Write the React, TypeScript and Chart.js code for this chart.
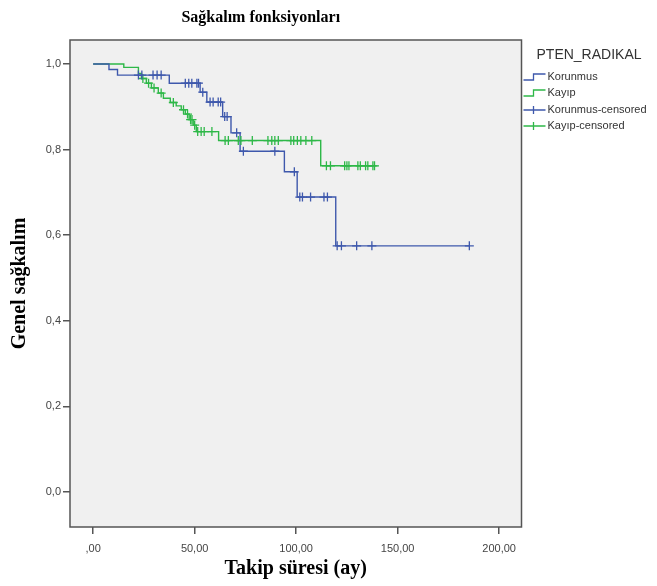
import React, { useEffect, useRef } from "react";
import { Chart, registerables } from "chart.js";

Chart.register(...registerables);

const chartTitle = "Sağkalım fonksiyonları";
const xAxisTitle = "Takip süresi (ay)";
const yAxisTitle = "Genel sağkalım";
const legendTitle = "PTEN_RADIKAL";
const seriesNames = ["Korunmus", "Kayıp"];
const censoredNames = ["Korunmus-censored", "Kayıp-censored"];
const seriesColors = ["#3E58AC", "#2EB848"];

const xTicks = [0, 50, 100, 150, 200];
const xTickLabels = [",00", "50,00", "100,00", "150,00", "200,00"];
const yTicks = [0, 0.2, 0.4, 0.6, 0.8, 1.0];
const yTickLabels = ["0,0", "0,2", "0,4", "0,6", "0,8", "1,0"];

// Korunmus: survival steps
const korunmusTimes = [0, 7.8, 12.0, 37.5, 52.7, 56.0, 63.8, 67.9, 72.4, 94.2, 100.5, 119.5, 185.3];
const korunmusSurv = [1.0, 0.987, 0.974, 0.955, 0.934, 0.911, 0.877, 0.839, 0.796, 0.748, 0.689, 0.575, 0.575];
// Korunmus: censored cases
const korunmusCensTimes = [
  22.3, 24.0, 29.5, 31.5, 33.5, 45.4, 47.1, 48.6, 51.1, 51.9, 54.0, 57.6, 59.1, 61.6, 62.8,
  64.8, 66.0, 70.7, 74.0, 89.5, 99.1, 101.8, 103.1, 107.1, 113.7, 115.4, 120.2, 122.3, 129.8, 137.3, 185.3,
];
const korunmusCensSurv = [
  0.974, 0.974, 0.974, 0.974, 0.974, 0.955, 0.955, 0.955, 0.955, 0.955, 0.934, 0.911, 0.911, 0.911, 0.911,
  0.877, 0.877, 0.839, 0.796, 0.796, 0.748, 0.689, 0.689, 0.689, 0.689, 0.689, 0.575, 0.575, 0.575, 0.575, 0.575,
];

// Kayıp: survival steps
const kayipTimes = [0, 15.1, 22.3, 23.8, 26.2, 28.7, 32.1, 34.6, 38.0, 40.9, 43.4, 45.4, 47.3, 49.3, 50.8, 61.8, 112.1, 139.1];
const kayipSurv = [1.0, 0.992, 0.978, 0.966, 0.955, 0.944, 0.932, 0.92, 0.91, 0.902, 0.893, 0.883, 0.87, 0.857, 0.842, 0.821, 0.762, 0.762];
// Kayıp: censored cases
const kayipCensTimes = [
  24.5, 27.3, 30.0, 33.5, 39.5, 44.5, 46.5, 48.0, 48.7, 50.0, 51.5, 53.2, 54.7, 58.5,
  65.0, 66.6, 71.5, 72.8, 78.4, 86.1, 88.0, 89.5, 91.2, 97.4, 98.8, 100.6, 102.3, 104.8, 107.7,
  114.9, 116.9, 123.9, 125.0, 126.0, 130.4, 131.6, 134.2, 135.3, 137.8, 138.6,
];
const kayipCensSurv = [
  0.966, 0.955, 0.944, 0.932, 0.91, 0.893, 0.883, 0.87, 0.87, 0.857, 0.842, 0.842, 0.842, 0.842,
  0.821, 0.821, 0.821, 0.821, 0.821, 0.821, 0.821, 0.821, 0.821, 0.821, 0.821, 0.821, 0.821, 0.821, 0.821,
  0.762, 0.762, 0.762, 0.762, 0.762, 0.762, 0.762, 0.762, 0.762, 0.762, 0.762,
];

const toPoints = (xs: number[], ys: number[]) => xs.map((x, i) => ({ x, y: ys[i] }));

const frameAndLegend = {
  id: "frameAndLegend",
  beforeDatasetsDraw(chart: any) {
    const { ctx, chartArea: a } = chart;
    ctx.save();
    ctx.fillStyle = "#f0f0f0";
    ctx.fillRect(a.left, a.top, a.right - a.left, a.bottom - a.top);
    ctx.restore();
  },
  afterDatasetsDraw(chart: any) {
    const { ctx, chartArea: a } = chart;
    ctx.save();
    ctx.strokeStyle = "#555";
    ctx.lineWidth = 1.5;
    ctx.strokeRect(a.left, a.top, a.right - a.left, a.bottom - a.top);
    ctx.restore();
  },
  afterDraw(chart: any) {
    const { ctx, chartArea: a } = chart;
    const x0 = a.right + 2;
    ctx.save();
    ctx.fillStyle = "#333";
    ctx.textBaseline = "middle";
    ctx.textAlign = "left";
    ctx.font = '14px "Liberation Sans", Arial, sans-serif';
    ctx.fillText(legendTitle, x0 + 13, 55);
    const rows = [77, 93, 110, 126];
    ctx.font = '11px "Liberation Sans", Arial, sans-serif';
    const labels = [...seriesNames, ...censoredNames];
    labels.forEach((lab, i) => {
      const y = rows[i];
      const col = seriesColors[i % 2];
      ctx.strokeStyle = col;
      ctx.lineWidth = 1.3;
      ctx.beginPath();
      if (i < 2) {
        ctx.moveTo(x0, y + 3);
        ctx.lineTo(x0 + 10, y + 3);
        ctx.lineTo(x0 + 10, y - 3);
        ctx.lineTo(x0 + 22, y - 3);
      } else {
        ctx.moveTo(x0, y);
        ctx.lineTo(x0 + 22, y);
        ctx.moveTo(x0 + 10, y - 4);
        ctx.lineTo(x0 + 10, y + 4);
      }
      ctx.stroke();
      ctx.fillStyle = "#333";
      ctx.fillText(lab, x0 + 24, y);
    });
    ctx.restore();
  },
};

export default function App() {
  const ref = useRef<HTMLCanvasElement | null>(null);
  useEffect(() => {
    document.body.style.margin = "0";
    if (!ref.current) return;
    const chart = new Chart(ref.current, {
      type: "scatter",
      data: {
        datasets: [
          {
            label: censoredNames[0],
            data: toPoints(korunmusCensTimes, korunmusCensSurv),
            showLine: false,
            pointStyle: "cross",
            pointRadius: 4.5,
            pointBorderWidth: 1.3,
            borderColor: seriesColors[0],
            backgroundColor: seriesColors[0],
          },
          {
            label: censoredNames[1],
            data: toPoints(kayipCensTimes, kayipCensSurv),
            showLine: false,
            pointStyle: "cross",
            pointRadius: 4.5,
            pointBorderWidth: 1.3,
            borderColor: seriesColors[1],
            backgroundColor: seriesColors[1],
          },
          {
            label: seriesNames[0],
            data: toPoints(korunmusTimes, korunmusSurv),
            showLine: true,
            stepped: "before",
            borderColor: seriesColors[0],
            borderWidth: 1.4,
            pointRadius: 0,
            fill: false,
          },
          {
            label: seriesNames[1],
            data: toPoints(kayipTimes, kayipSurv),
            showLine: true,
            stepped: "before",
            borderColor: seriesColors[1],
            borderWidth: 1.4,
            pointRadius: 0,
            fill: false,
          },
        ],
      },
      options: {
        animation: false,
        responsive: false,
        devicePixelRatio: 1,
        layout: { padding: { left: 0, right: 135.5, top: 0, bottom: 0 } },
        plugins: {
          legend: { display: false },
          tooltip: { enabled: false },
          title: {
            display: true,
            text: chartTitle,
            color: "#000",
            font: { family: '"Liberation Serif", "Times New Roman", serif', size: 16, weight: "bold" },
            padding: { top: 8, bottom: 12.8 },
          },
        },
        scales: {
          x: {
            type: "linear",
            min: -11.4,
            max: 211,
            afterBuildTicks: (s: any) => {
              s.ticks = xTicks.map((v) => ({ value: v }));
            },
            afterFit: (s: any) => {
              s.height = 59;
            },
            ticks: {
              autoSkip: false,
              maxRotation: 0,
              padding: 8,
              color: "#444",
              font: { family: '"Liberation Sans", Arial, sans-serif', size: 11 },
              callback: (v: any) => {
                const i = xTicks.indexOf(Number(v));
                return i >= 0 ? xTickLabels[i] : "";
              },
            },
            grid: { display: true, drawOnChartArea: false, drawTicks: true, tickLength: 7, color: "#555", lineWidth: 1.5 },
            border: { display: false },
            title: {
              display: true,
              text: xAxisTitle,
              color: "#000",
              font: { family: '"Liberation Serif", "Times New Roman", serif', size: 20, weight: "bold" },
              padding: { top: 0, bottom: 5 },
            },
          },
          y: {
            type: "linear",
            min: -0.082,
            max: 1.056,
            afterBuildTicks: (s: any) => {
              s.ticks = yTicks.map((v) => ({ value: v }));
            },
            afterFit: (s: any) => {
              s.width = 70;
            },
            ticks: {
              autoSkip: false,
              padding: 2,
              color: "#444",
              font: { family: '"Liberation Sans", Arial, sans-serif', size: 11 },
              callback: (v: any) => {
                const i = yTicks.findIndex((t) => Math.abs(t - Number(v)) < 1e-6);
                return i >= 0 ? yTickLabels[i] : "";
              },
            },
            grid: { display: true, drawOnChartArea: false, drawTicks: true, tickLength: 7, color: "#555", lineWidth: 1.5 },
            border: { display: false },
            title: {
              display: true,
              text: yAxisTitle,
              color: "#000",
              font: { family: '"Liberation Serif", "Times New Roman", serif', size: 20, weight: "bold" },
              padding: { top: 8, bottom: 0 },
            },
          },
        },
      },
      plugins: [frameAndLegend],
    } as any);
    return () => chart.destroy();
  }, []);
  return (
    <div style={{ width: 657, height: 586 }}>
      <canvas ref={ref} width={657} height={586} style={{ display: "block" }} />
    </div>
  );
}
